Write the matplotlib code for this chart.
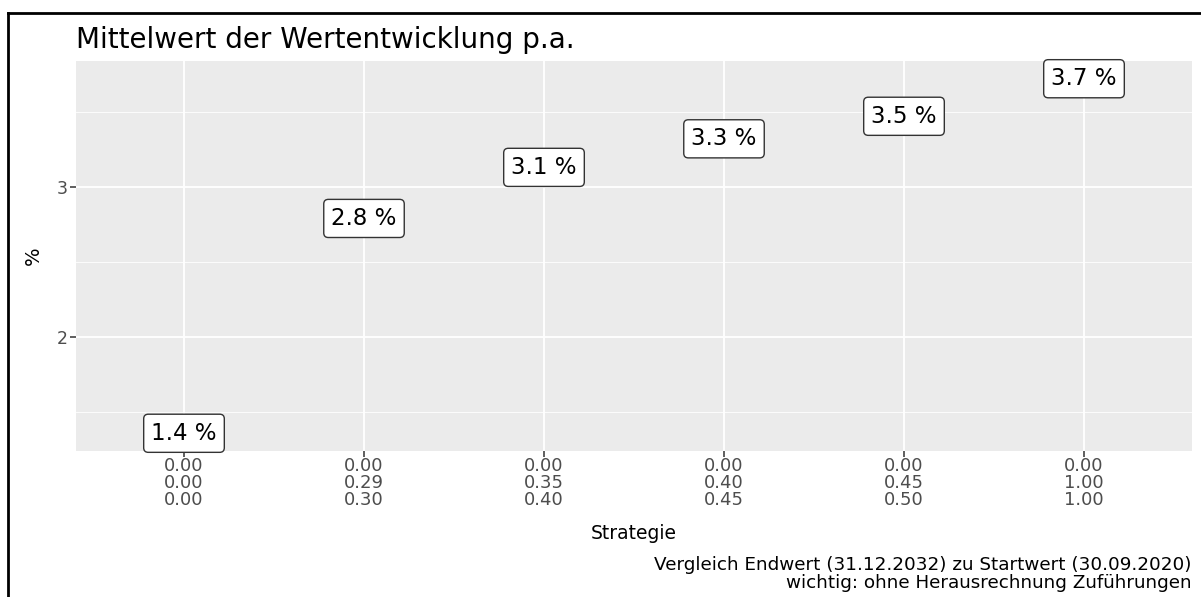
import matplotlib
matplotlib.use("Agg")
import matplotlib.pyplot as plt
from matplotlib.lines import Line2D
from matplotlib.ticker import FixedLocator

plt.rcParams['font.family'] = ['DejaVu Sans']

# Daten
strategies = [
    "0.00\n0.00\n0.00",
    "0.00\n0.29\n0.30",
    "0.00\n0.35\n0.40",
    "0.00\n0.40\n0.45",
    "0.00\n0.45\n0.50",
    "0.00\n1.00\n1.00",
]
mean_return = [1.36, 2.79, 3.13, 3.32, 3.47, 3.72]

W, H = 1201, 597
fig = plt.figure(figsize=(W / 100, H / 100), dpi=100)
ax = fig.add_axes([76 / W, 1 - 451 / H, (1192 - 76) / W, (451 - 61) / H])

x = list(range(1, len(strategies) + 1))
ax.set_facecolor('#EBEBEB')
ax.set_xlim(0.4, len(strategies) + 0.6)
lo, hi = min(mean_return), max(mean_return)
pad = (hi - lo) * 0.05
ax.set_ylim(lo - pad, hi + pad)

ax.set_xticks(x)
ax.set_xticklabels(strategies, fontsize=13, color='#4D4D4D', linespacing=0.93)
ax.set_yticks([2, 3])
ax.set_yticklabels(['2', '3'], fontsize=12.5, color='#4D4D4D')
ax.yaxis.set_minor_locator(FixedLocator([1.5, 2.5, 3.5]))
ax.tick_params(axis='both', which='major', length=4, width=1.1, color='#333333', pad=2)
ax.tick_params(axis='x', which='major', pad=0)
ax.tick_params(axis='y', which='minor', length=0)

ax.grid(True, which='major', color='white', linewidth=1.3)
ax.grid(True, which='minor', axis='y', color='white', linewidth=0.6)
ax.set_axisbelow(True)
for s in ax.spines.values():
    s.set_visible(False)

# Beschriftungen
for xi, v in zip(x, mean_return):
    ax.text(xi, v, f"{v:.1f} %", ha='center', va='center', fontsize=16.5, color='black',
            bbox=dict(boxstyle='round,pad=0.33,rounding_size=0.2', fc='white', ec='#333333', lw=1))

ax.set_xlabel('Strategie', fontsize=13.5, labelpad=11)
ax.set_ylabel('%', fontsize=14, labelpad=10)
fig.text(76 / W, 1 - 40 / H, 'Mittelwert der Wertentwicklung p.a.', fontsize=20, ha='left', va='center')
fig.text(1192 / W, 1 - 574 / H,
         'Vergleich Endwert (31.12.2032) zu Startwert (30.09.2020)\nwichtig: ohne Herausrechnung Zuführungen',
         fontsize=13.2, ha='right', va='center', linespacing=0.93)

# Rahmen
fig.add_artist(Line2D([8 / W, 1], [1 - 13 / H, 1 - 13 / H], color='black', lw=2, transform=fig.transFigure))
fig.add_artist(Line2D([8 / W, 8 / W], [0, 1 - 13 / H], color='black', lw=2, transform=fig.transFigure))

fig.savefig('out.png', dpi=100)
